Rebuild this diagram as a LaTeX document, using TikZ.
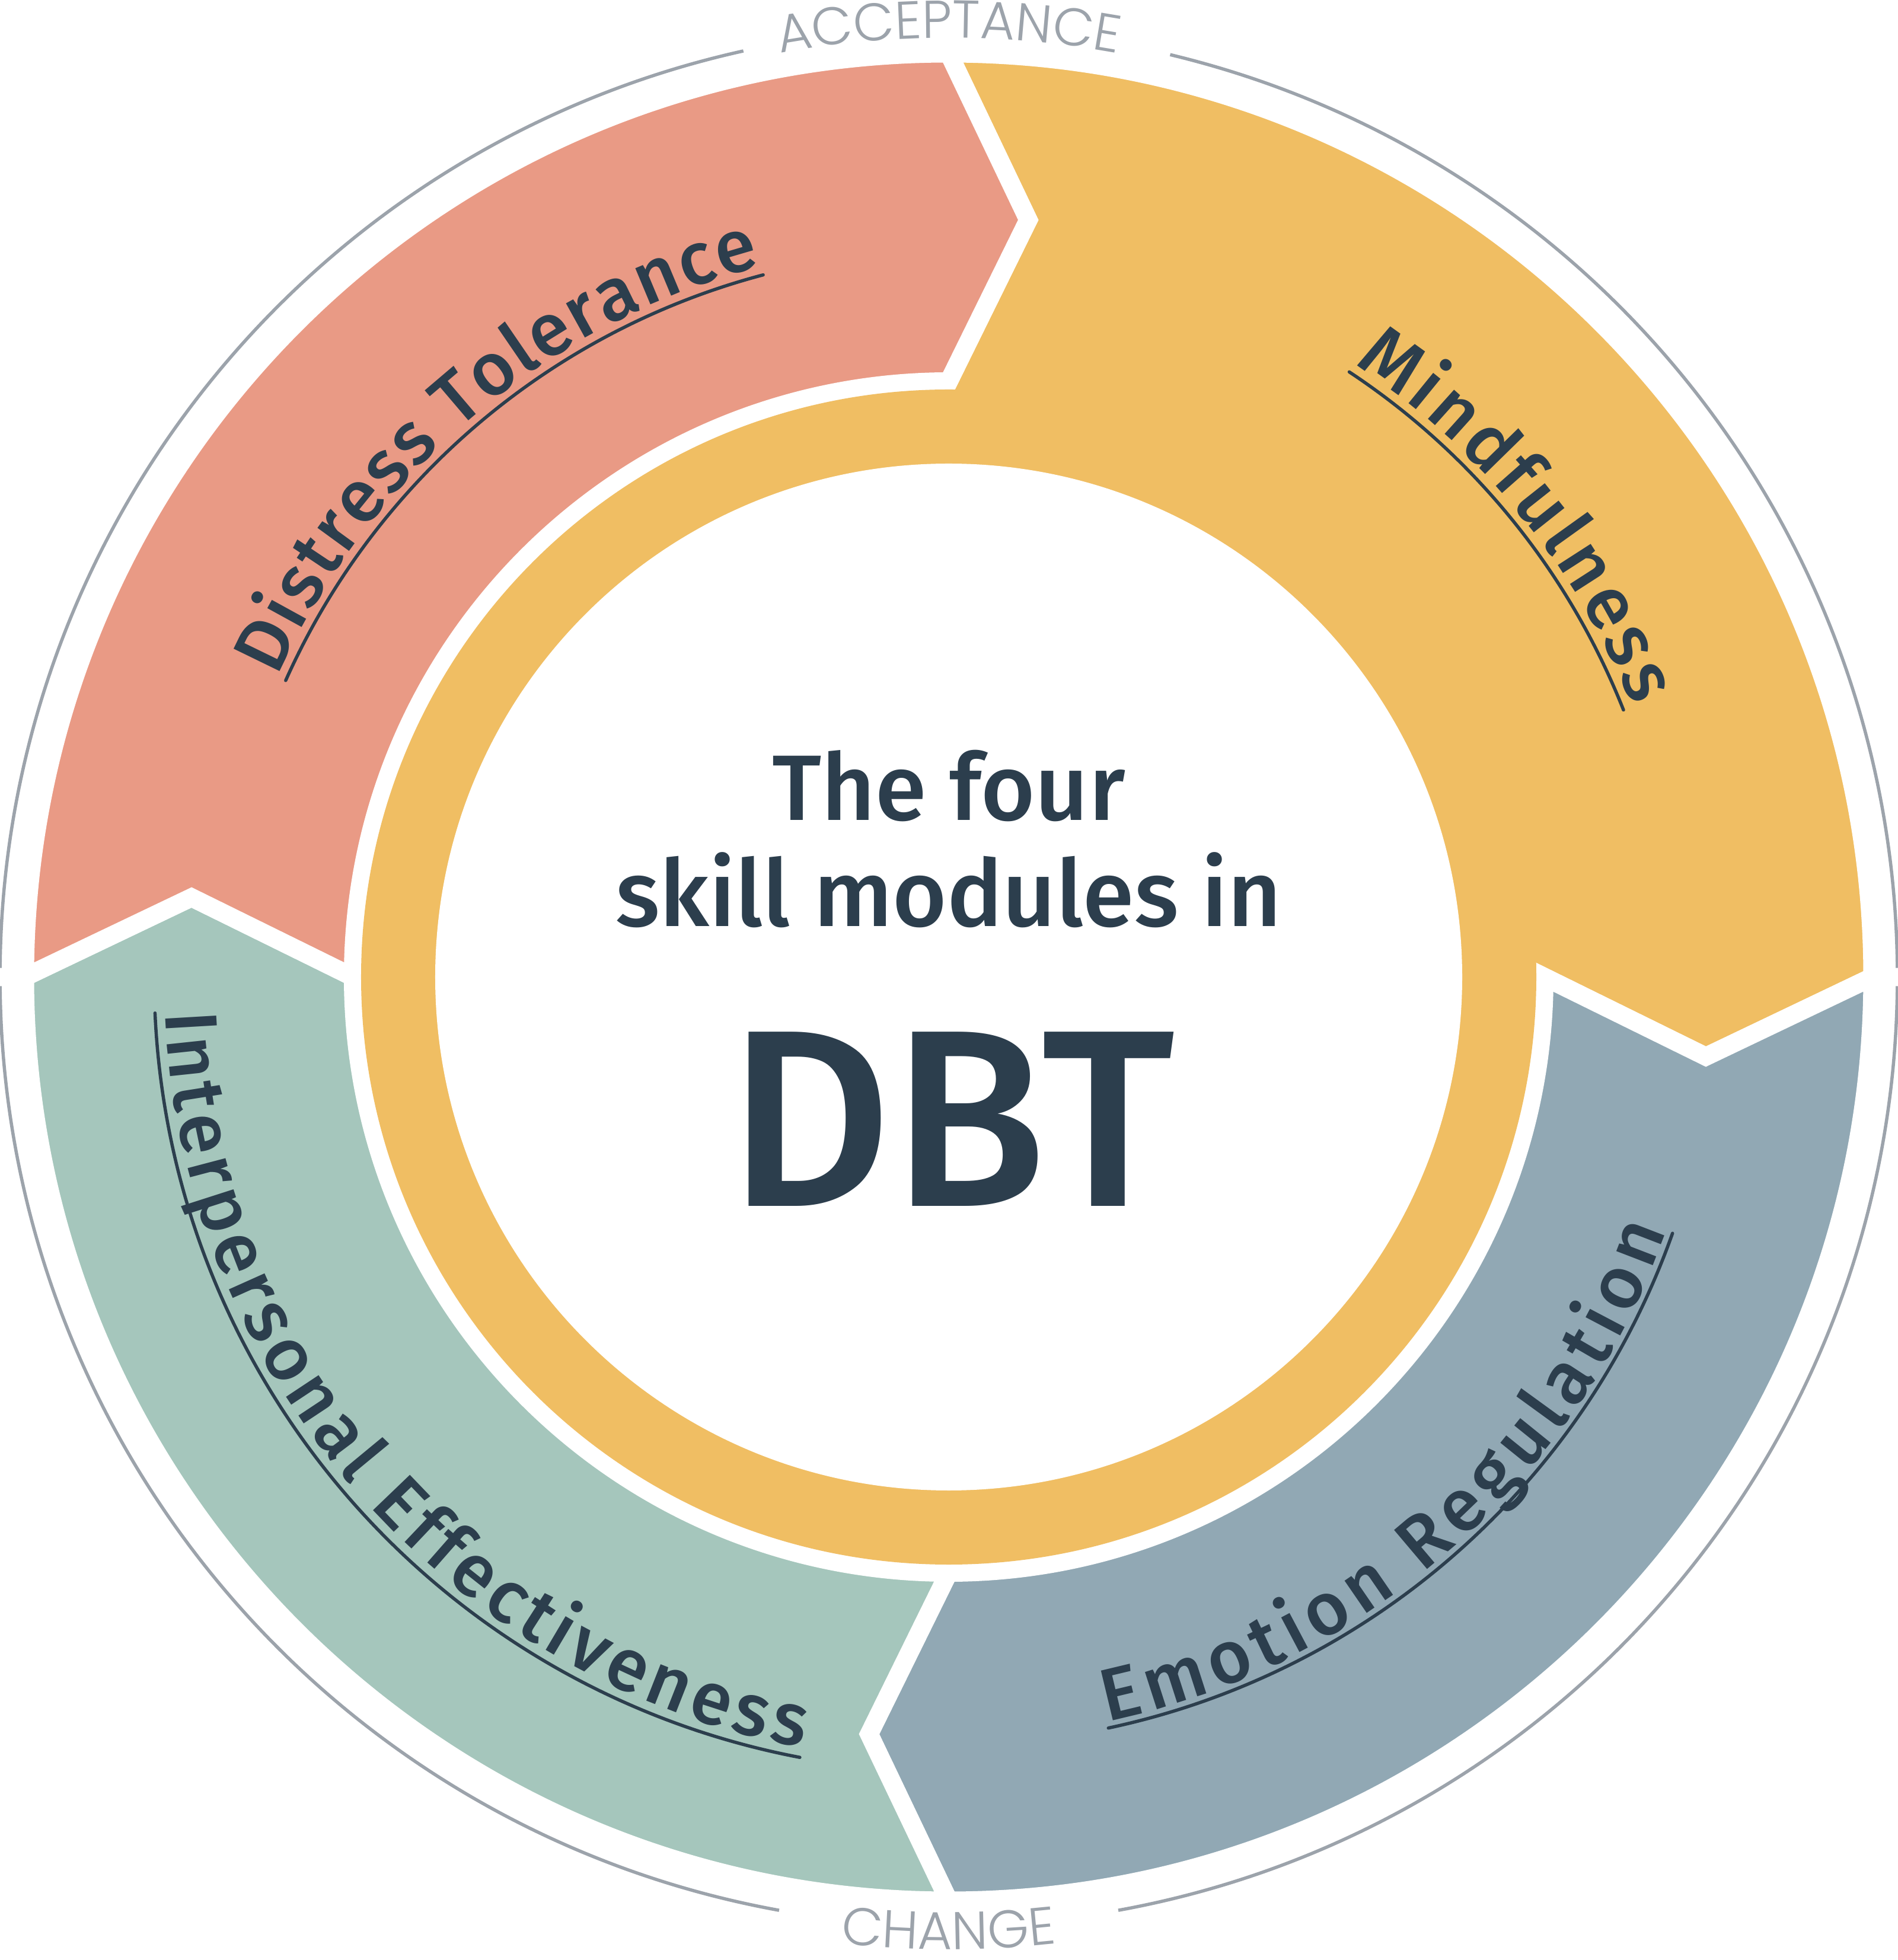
\documentclass[tikz,border=0pt]{standalone}
\usepackage{fontspec}
\setmainfont{Fira Sans}
\newfontfamily\labelfont{Fira Sans Medium}
\newfontfamily\capsfont{Poppins Light}
\newfontfamily\headfont{Fira Sans Medium}
\usetikzlibrary{calc,decorations.text}
\definecolor{TextInk}{HTML}{2C3E4D}
\definecolor{RimGray}{HTML}{9CA3AB}
\definecolor{DistressFill}{HTML}{E99A85}
\definecolor{MindFill}{HTML}{F0BE63}
\definecolor{EmotionFill}{HTML}{91A8B4}
\definecolor{PeopleFill}{HTML}{A5C6BC}
\newcommand{\Rout}{15.58}
\newcommand{\Rin}{10.045}
\newcommand{\Rmid}{12.84}
\newcommand{\LabelSize}{\labelfont\fontsize{35.5}{40}\selectfont}
\newcommand{\CapsSize}{\capsfont\fontsize{25.5}{28}\selectfont}
% module band: outer arc from #1 to #2 (clockwise), point at #2, notch at #1
\newcommand{\ModuleShape}[2]{%
  (#1:\Rout) arc[start angle=#1,end angle=#2,radius=\Rout]
  -- ({#2-6}:\Rmid) -- (#2:\Rin)
  arc[start angle=#2,end angle=#1,radius=\Rin]
  -- ({#1-6}:\Rmid) -- cycle}
\tikzset{
  diagram/.style={text=TextInk},
  module/.style={draw=white,line width=3.1mm,line join=miter},
  rim/.style={draw=RimGray,line width=0.55mm},
  underline/.style={draw=TextInk,line width=0.55mm,line cap=round},
  arclabel/.style={decorate,decoration={text along path,text align={fit to path},
    text color=TextInk,text={#1}}},
  caption/.style={decorate,decoration={text along path,text align={center},
    text color=RimGray,text={#1}}},
  title/.style={font=\labelfont\fontsize{44.6}{50}\selectfont,text=TextInk,anchor=base},
}

\begin{document}
\begin{tikzpicture}[diagram]
  \fill[white] (-16,-16.58) rectangle (16,16.48);
  \useasboundingbox (-16,-16.58) rectangle (16,16.48);

  % the four modules
  \fill[MindFill,module] (90:\Rout) arc[start angle=90,end angle=0,radius=\Rout]
    -- (-6:\Rmid) -- ($(-6:\Rmid)!1.2!(0:\Rin)$) -- (0,0)
    -- ($(84:\Rmid)!1.2!(90:\Rin)$) -- (84:\Rmid) -- cycle;
  \fill[EmotionFill,module] \ModuleShape{0}{-90};
  \fill[PeopleFill,module] \ModuleShape{-90}{-180};
  \fill[DistressFill,module] \ModuleShape{180}{90};

  % centre
  \fill[MindFill] (0,0) circle[radius=9.91];
  \fill[white] (0,0) circle[radius=8.66];
  \node[title] (lineone) at (0,2.64) {The four};
  \node[title] (linetwo) at (0,0.85) {skill modules in};
  \node[font=\headfont\fontsize{121}{124}\selectfont,anchor=base] (dbt) at (0.05,-3.87) {DBT};

  % outer rim
  \foreach \a/\b in {76.5/0.55,-0.55/-79.7,259.7/180.55,179.45/102.5}
    \draw[rim] (\a:16) arc[start angle=\a,end angle=\b,radius=16];
  \path[caption={|\CapsSize|ACCEPTANCE}] (110:15.84) arc[start angle=110,end angle=70,radius=15.84];
  \path[caption={|\CapsSize|CHANGE}] (250:16.4) arc[start angle=250,end angle=290,radius=16.4];

  % module labels
  \path[arclabel={|\LabelSize|Distress Tolerance}] (155.9:12.4) arc[start angle=155.9,end angle=104.8,radius=12.4];
  \draw[underline] (155.9:12.25) arc[start angle=155.9,end angle=104.8,radius=12.25];
  \path[arclabel={|\LabelSize|Mindfulness}] (56.5:12.4) arc[start angle=56.5,end angle=21.6,radius=12.4];
  \draw[underline] (56.5:12.24) arc[start angle=56.5,end angle=21.6,radius=12.24];
  \path[arclabel={|\LabelSize|Emotion Regulation}] (282:12.84) arc[start angle=282,end angle=340.5,radius=12.84];
  \draw[underline] (282:12.95) arc[start angle=282,end angle=340.5,radius=12.95];
  \path[arclabel={|\LabelSize|Interpersonal Effectiveness}] (182.6:13.23) arc[start angle=182.6,end angle=259.2,radius=13.23];
  \draw[underline] (182.6:13.4) arc[start angle=182.6,end angle=259.2,radius=13.4];
\end{tikzpicture}
\end{document}
